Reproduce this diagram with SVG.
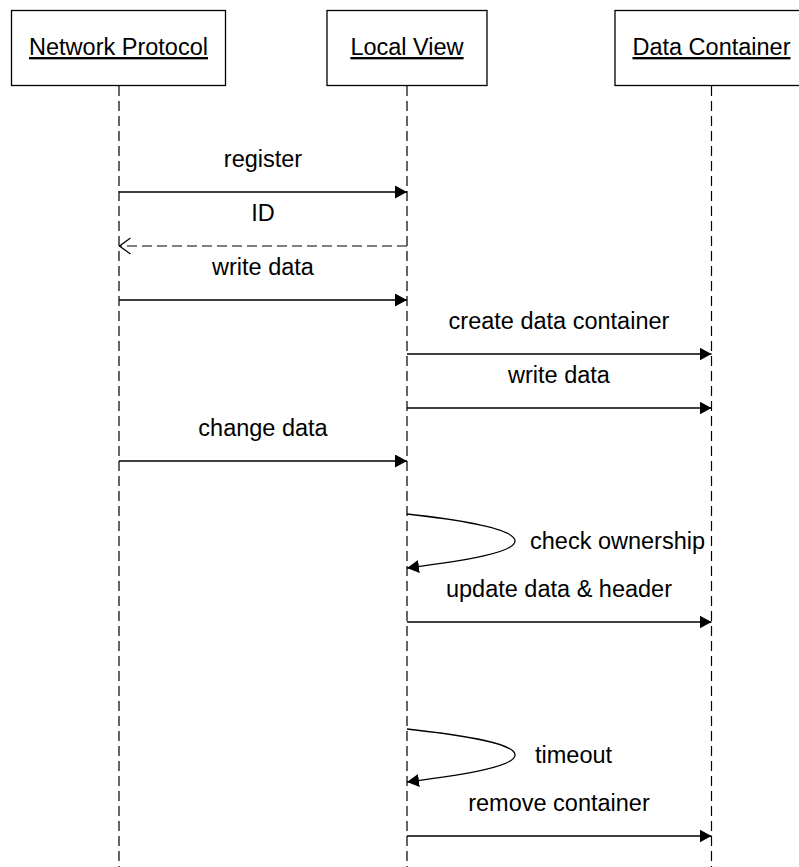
<svg xmlns="http://www.w3.org/2000/svg" width="799" height="867" viewBox="0 0 799 867">
<defs>
<style>
text{font-family:"Liberation Sans",Arial,sans-serif;font-size:23.5px;fill:#000}
.box{fill:#fff;stroke:#000;stroke-width:1.3}
.life{stroke:#000;stroke-width:1.2;stroke-dasharray:10 5;fill:none}
.msg{stroke:#000;stroke-width:1.3;fill:none;marker-end:url(#fill)}
.ret{stroke:#000;stroke-width:1.2;fill:none;stroke-dasharray:10 5;marker-end:url(#open)}
.hdr{text-decoration:underline}
</style>
<marker id="fill" viewBox="0 0 12 13" refX="12" refY="6.5" markerWidth="12" markerHeight="13" markerUnits="userSpaceOnUse" orient="auto">
<path d="M0,0 L12,6.5 L0,13 Z" fill="#000"/>
</marker>
<marker id="open" viewBox="0 0 12 18" refX="11.5" refY="9" markerWidth="12" markerHeight="18" markerUnits="userSpaceOnUse" orient="auto">
<path d="M0,1 L11,9 L0,17" fill="none" stroke="#000" stroke-width="1.2"/>
</marker>
</defs>
<rect width="799" height="867" fill="#fff"/>
<g id="lifelines">
<line class="life" x1="119" y1="86" x2="119" y2="867"/>
<line class="life" x1="407" y1="86" x2="407" y2="867"/>
<line class="life" x1="711.5" y1="86" x2="711.5" y2="867"/>
</g>
<g id="node-network-protocol">
<rect class="box" x="11.5" y="10.5" width="214" height="75"/>
<text class="hdr" x="118.5" y="55" text-anchor="middle">Network Protocol</text>
</g>
<g id="node-local-view">
<rect class="box" x="327" y="10.5" width="160" height="75"/>
<text class="hdr" x="407" y="55" text-anchor="middle">Local View</text>
</g>
<g id="node-data-container">
<rect class="box" x="615" y="10.5" width="193" height="75"/>
<text class="hdr" x="711.5" y="55" text-anchor="middle">Data Container</text>
</g>
<g id="connectors">
<line class="msg" x1="119" y1="192" x2="407" y2="192"/>
<text x="263" y="167" text-anchor="middle">register</text>
<line class="ret" x1="407" y1="246" x2="119" y2="246"/>
<text x="263" y="221" text-anchor="middle">ID</text>
<line class="msg" x1="119" y1="300" x2="407" y2="300"/>
<text x="263" y="275" text-anchor="middle">write data</text>
<line class="msg" x1="407" y1="354" x2="711.5" y2="354"/>
<text x="559" y="329" text-anchor="middle">create data container</text>
<line class="msg" x1="407" y1="408" x2="711.5" y2="408"/>
<text x="559" y="383" text-anchor="middle">write data</text>
<line class="msg" x1="119" y1="461" x2="407" y2="461"/>
<text x="263" y="436" text-anchor="middle">change data</text>
<path class="msg" d="M407,514 C470,521 515,530 515,541 C515,552 470,560 407,568"/>
<text x="530" y="549">check ownership</text>
<line class="msg" x1="407" y1="622" x2="711.5" y2="622"/>
<text x="559" y="597" text-anchor="middle">update data &amp; header</text>
<path class="msg" d="M407,729 C470,736 515,744 515,755 C515,766 470,774 407,782"/>
<text x="535" y="763">timeout</text>
<line class="msg" x1="407" y1="836" x2="711.5" y2="836"/>
<text x="559" y="811" text-anchor="middle">remove container</text>
</g>
</svg>
